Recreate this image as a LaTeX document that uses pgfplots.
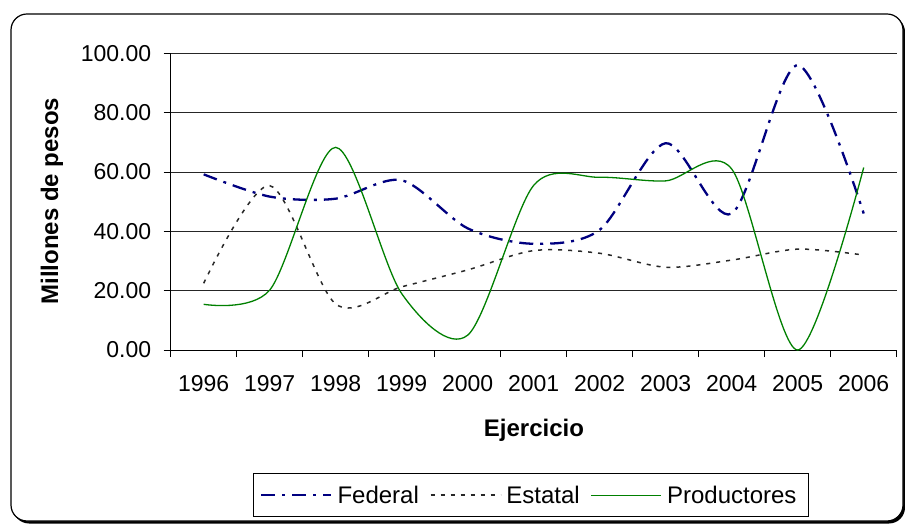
\documentclass[border=0pt]{standalone}
\usepackage{fontspec}
\setmainfont{Liberation Sans}
\usepackage{pgfplots}
\pgfplotsset{compat=1.18}
\definecolor{fednavy}{RGB}{0,0,128}
\definecolor{prodgreen}{RGB}{0,128,0}
\definecolor{estgray}{RGB}{40,40,40}
\begin{document}
\begin{tikzpicture}
\path[use as bounding box] (0pt,0pt) rectangle (905pt,525pt);
\fill[black, rounded corners=16pt] (13pt,1.5pt) rectangle (905pt,509pt);
\filldraw[fill=white, draw=black, line width=1.2pt, rounded corners=16pt] (11pt,4pt) rectangle (903pt,511pt);
\begin{axis}[
  at={(170.7pt,175pt)}, anchor=south west,
  scale only axis, width=726pt, height=296.7pt,
  xmin=0.5, xmax=11.5, ymin=0, ymax=100,
  axis x line*=bottom, axis y line*=left,
  axis line style={-, black, line width=0.8pt},
  xtick={0.5,1.5,2.5,3.5,4.5,5.5,6.5,7.5,8.5,9.5,10.5,11.5},
  xticklabels={1996,1997,1998,1999,2000,2001,2002,2003,2004,2005,2006,},
  x tick label as interval,
  ytick={0,20,40,60,80,100},
  tick align=outside, major tick length=7pt,
  tick style={black, line width=0.8pt},
  ymajorgrids, grid style={black!85, line width=0.8pt},
  /pgf/number format/assume math mode=true,
  yticklabel style={xshift=-9pt, /pgf/number format/fixed, /pgf/number format/fixed zerofill, /pgf/number format/precision=2},
  xticklabel style={yshift=-15pt},
  tick label style={font=\fontsize{23}{26}\selectfont},
  xlabel={Ejercicio}, ylabel={Millones de pesos},
  label style={font=\bfseries\fontsize{24}{28}\selectfont},
  xlabel style={at={(axis description cs:0.5004,-0.2696)}, anchor=center},
  ylabel style={at={(axis description cs:-0.1635,0.502)}, anchor=center},
  legend columns=3,
  legend image code/.code={\draw[#1] (0pt,0pt) -- (70pt,0pt);},
  legend style={at={(axis description cs:0.1138,-0.4156)}, anchor=north west,
    draw=black, line width=0.8pt, font=\fontsize{24}{27}\selectfont,
    inner xsep=6.5pt, inner ysep=8.5pt,
    nodes={inner xsep=5pt, inner ysep=3.5pt},
    /tikz/every even column/.append style={column sep=6pt}},
]
\addplot[fednavy, line width=2.3pt, smooth, dash pattern=on 14pt off 7pt on 3pt off 7pt]
  coordinates {(1,59.2) (2,51.7) (3,51) (4,57.2) (5,41) (6,35.8) (7,40.5) (8,69.7) (9,46) (10,96) (11,46)};
\addlegendentry{Federal}
\addplot[estgray, line width=1.5pt, smooth, dash pattern=on 4pt off 6pt]
  coordinates {(1,22.5) (2,55.4) (3,15.5) (4,21.3) (5,27) (6,33.5) (7,32.6) (8,27.9) (9,30.3) (10,34) (11,32)};
\addlegendentry{Estatal}
\addplot[prodgreen, line width=1.3pt, smooth]
  coordinates {(1,15.4) (2,20.2) (3,68.3) (4,19) (5,5) (6,55.5) (7,58.2) (8,57) (9,61) (10,0) (11,61.5)};
\addlegendentry{Productores}
\end{axis}
\end{tikzpicture}
\end{document}
